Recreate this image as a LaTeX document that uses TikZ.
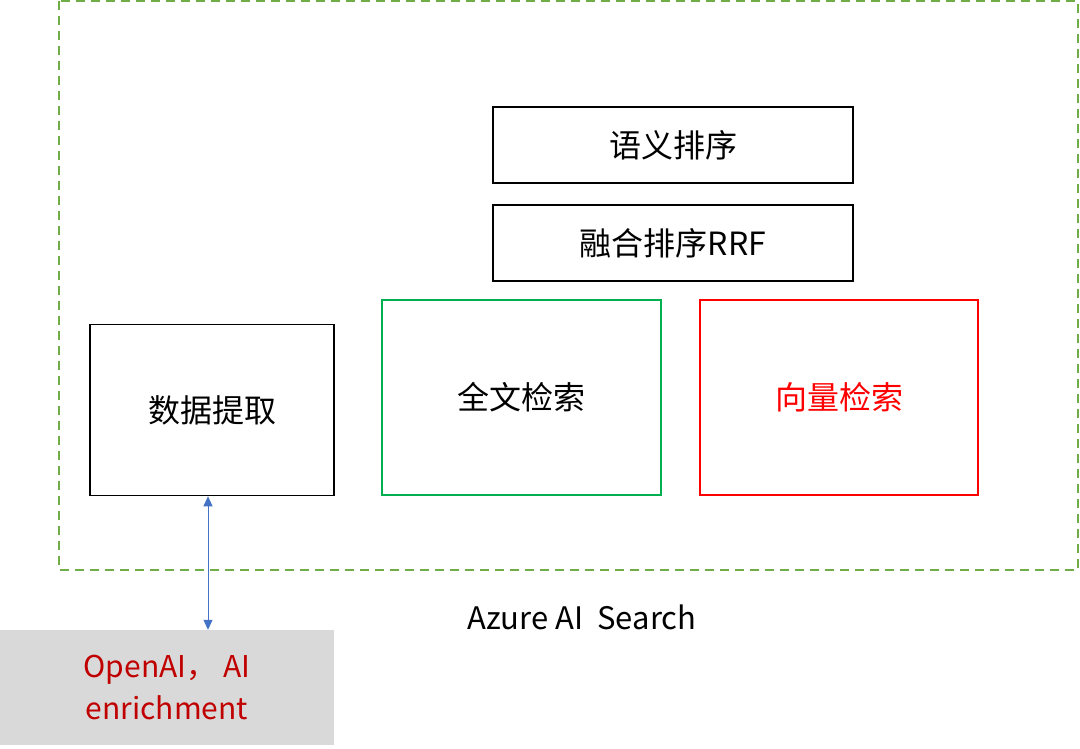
\documentclass[tikz,border=0pt]{standalone}
\usepackage{fontspec}
\setmainfont{Noto Sans CJK SC}
\usetikzlibrary{arrows.meta}
\definecolor{frameGreen}{HTML}{70AD47}
\definecolor{boxGreen}{HTML}{00B050}
\definecolor{linkBlue}{HTML}{4472C4}
\definecolor{darkRed}{HTML}{C00000}
\begin{document}
\begin{tikzpicture}[x=1pt, y=-1pt,
  box/.style={draw, line width=1.6pt, inner sep=0pt, font=\fontsize{32}{38}\selectfont},
  link/.style={linkBlue, line width=1pt, {Triangle[length=10pt,width=9pt]}-{Triangle[length=10pt,width=9pt]}}]
  \useasboundingbox (0,0) rectangle (1080,749);
  % Azure AI Search frame
  \draw[frameGreen, line width=2pt, dash pattern=on 9pt off 6pt] (59,1) rectangle (1078,570);
  \node[font=\fontsize{31}{36}\selectfont] (search) at (582,617) {Azure AI\ \ Search};
  % ranking
  \node[box, minimum width=360pt, minimum height=76pt] (semantic) at (673,145) {语义排序};
  \node[box, minimum width=360pt, minimum height=76pt] (rrf) at (673,243) {融合排序RRF};
  % retrieval
  \node[box, minimum width=244pt, minimum height=171pt] (extract) at (212,410) {数据提取};
  \node[box, boxGreen, text=black, minimum width=279pt, minimum height=195pt] (fulltext) at (521.5,397.5) {全文检索};
  \node[box, red, minimum width=278pt, minimum height=195pt] (vector) at (839,397.5) {向量检索};
  % enrichment
  \node[fill=black!15, text=darkRed, minimum width=334pt, minimum height=115pt, align=center,
    font=\fontsize{30}{42}\selectfont] (openai) at (167,687.5) {OpenAI，\ AI\\enrichment};
  \draw[link] (extract.south -| 208,0) -- (openai.north -| 208,0);
\end{tikzpicture}
\end{document}
